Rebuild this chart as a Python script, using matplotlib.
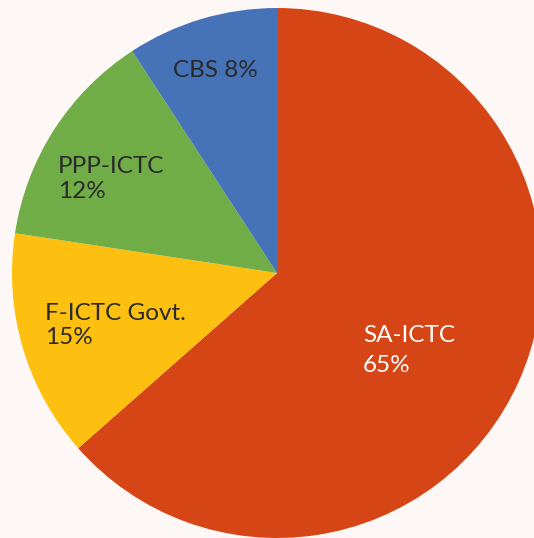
import matplotlib
matplotlib.use("Agg")
import matplotlib.pyplot as plt

# wedge shares (clockwise from 12 o'clock)
names = ["SA-ICTC", "F-ICTC Govt.", "PPP-ICTC", "CBS"]
shares = [63.5, 13.9, 13.4, 9.2]
pct_labels = ["65%", "15%", "12%", "8%"]
colors = ["#D54515", "#FDC010", "#70AD47", "#4672B8"]

bg = "#FDF8F6"
plt.rcParams["font.family"] = ["Lato", "DejaVu Sans"]

W, H = 534, 538
fig = plt.figure(figsize=(W / 100, H / 100), dpi=100, facecolor=bg)
ax = fig.add_axes([0, 0, 1, 1])
ax.set_facecolor(bg)

ax.pie(shares, colors=colors, startangle=90, counterclock=False,
       center=(277, H - 273), radius=265, frame=True,
       wedgeprops=dict(linewidth=0))
ax.set_xlim(0, W)
ax.set_ylim(0, H)
ax.set_aspect("equal")
ax.axis("off")

dark = "#2A2A2A"
fs = 17.5
# label lines: (text, x, baseline in pixels from top, colour)
label_lines = [
    (f"{names[3]} {pct_labels[3]}", 173, 77, dark),
    (names[2], 58, 173, dark),
    (pct_labels[2], 58, 198, dark),
    (names[1], 45, 320, dark),
    (pct_labels[1], 45, 344, dark),
    (names[0], 363, 342, "white"),
    (pct_labels[0], 363, 372, "white"),
]
for txt, x, yb, c in label_lines:
    ax.text(x, H - yb, txt, fontsize=fs, color=c, ha="left", va="baseline")

fig.savefig("out.png", dpi=100, facecolor=bg)
